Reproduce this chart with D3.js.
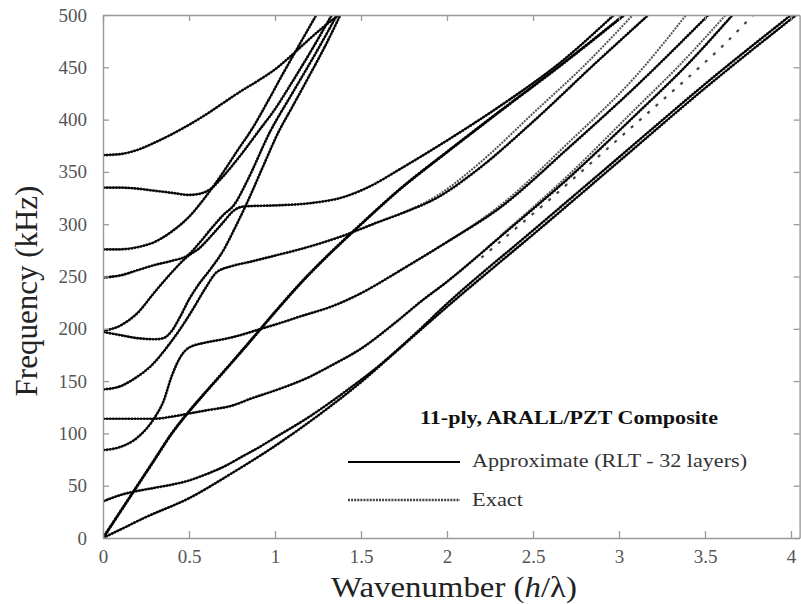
<!DOCTYPE html>
<html><head><meta charset="utf-8">
<script src="https://cdn.jsdelivr.net/npm/d3@7"></script>
<style>body{margin:0;background:#fff}svg{display:block}</style>
</head><body><svg id="c" width="801" height="604"></svg>
<script>
// ---- tick values / labels ----
const xTicks = [0, 0.5, 1, 1.5, 2, 2.5, 3, 3.5, 4];
const xTickLabels = ["0", "0.5", "1", "1.5", "2", "2.5", "3", "3.5", "4"];
const yTicks = [0, 50, 100, 150, 200, 250, 300, 350, 400, 450, 500];

// ---- dispersion branches: [wavenumber h/λ, frequency kHz] ----
const modeA0 = [[0,0],[0.1,8],[0.25,20],[0.5,38],[0.75,62],[1,88],[1.25,117],[1.5,149],[1.75,185],[2,221],[2.31,264],[2.5,290],[3,360],[3.5,430],[4.03,500]];
const mode35 = [[0,35],[0.1,41],[0.2,45],[0.3,48],[0.4,51],[0.5,55],[0.6,61],[0.7,68],[0.8,77],[0.9,86],[1,96],[1.2,116],[1.4,139],[1.6,164],[1.8,193],[2,224],[2.5,294],[3,364],[3.5,434],[4.0,500]];
const modeS0 = [[0,0],[0.1,25],[0.2,50],[0.3,75],[0.4,100],[0.5,121],[0.6,140],[0.75,168],[0.855,188],[1,216],[1.145,243],[1.3,269],[1.5,300],[1.73,334],[2,369],[2.3,407],[2.67,453],[3.0,496],[3.03,500]];
const mode84 = [[0,84],[0.1,87],[0.2,96],[0.3,115],[0.35,130],[0.4,155],[0.45,173],[0.5,182],[0.6,187],[0.7,190],[0.8,194],[0.9,199],[1.0,204],[1.15,212],[1.34,222],[1.5,234],[1.73,256],[2.0,283],[2.31,316],[2.7,372],[3.1,432],[3.52,500]];
const mode113 = [[0,114],[0.2,114],[0.3,114],[0.4,116],[0.5,119],[0.6,122],[0.76,127],[0.855,133],[1,141],[1.2,154],[1.34,166],[1.5,181],[1.73,210],[1.84,225],[2,245],[2.31,288],[2.7,343],[3.1,405],[3.4,453],[3.66,500]];
const mode140 = [[0,142],[0.1,145],[0.17,151],[0.3,168],[0.37,182],[0.45,200],[0.52,218],[0.6,240],[0.66,254],[0.75,260],[0.855,264],[1.0,270],[1.145,276],[1.38,288],[1.6,302],[1.73,310],[1.94,325],[2.2,355],[2.5,398],[2.87,455],[3.17,500]];
const mode197 = [[0,197],[0.1,194],[0.2,191],[0.3,190],[0.35,191],[0.4,198],[0.45,212],[0.5,228],[0.55,241],[0.62,256],[0.7,275],[0.76,294],[0.85,325],[0.93,355],[1.02,388],[1.1,412],[1.2,442],[1.3,473],[1.38,500]];
const mode200 = [[0,198],[0.1,203],[0.2,215],[0.3,235],[0.4,254],[0.49,269],[0.56,277],[0.63,289],[0.7,302],[0.76,313],[0.82,317],[1.0,318],[1.2,320],[1.4,326],[1.55,336],[1.73,353],[2.0,380],[2.3,412],[2.67,456],[2.97,500]];
const mode250 = [[0,249],[0.1,251],[0.2,256],[0.3,261],[0.4,265],[0.49,270],[0.56,282],[0.63,296],[0.7,309],[0.76,318],[0.84,342],[0.97,388],[1.1,425],[1.2,453],[1.3,482],[1.36,500]];
const mode275 = [[0,276],[0.1,276],[0.2,278],[0.3,283],[0.4,293],[0.5,307],[0.6,327],[0.7,350],[0.78,370],[0.87,392],[0.95,415],[1.05,445],[1.15,474],[1.24,500]];
const mode330 = [[0,335],[0.1,335],[0.2,334],[0.3,332],[0.4,330],[0.5,328],[0.56,329],[0.62,333],[0.7,346],[0.8,366],[0.9,388],[1.0,410],[1.1,436],[1.2,463],[1.33,500]];
const mode365 = [[0,366],[0.1,367],[0.2,371],[0.3,378],[0.4,386],[0.5,395],[0.6,405],[0.7,416],[0.8,427],[0.9,437],[1.0,448],[1.1,462],[1.2,477],[1.3,491],[1.37,500]];
// exact-only branches (upper right)
const exactSparse = [[2.2,268],[2.4,296],[2.6,324],[2.8,353],[3.0,382],[3.2,411],[3.4,440],[3.6,470],[3.78,500]];
const exact140b = [[1.73,310],[1.94,327],[2.2,360],[2.5,406],[2.8,452],[3.08,500]];
const exact84b = [[2.0,283],[2.31,318],[2.7,377],[3.1,442],[3.39,500]];
const exact113b = [[2.31,289],[2.7,346],[3.1,411],[3.34,450],[3.62,500]];

const branches = [modeA0, mode35, mode84, mode113, mode140, mode197, mode200, mode250, mode275, mode330, mode365];
const exactOnly = [exact140b, exact84b, exact113b];

// ---- drawing ----
const svg = d3.select("#c");
const FONT = "'Liberation Serif','Times New Roman',serif";
const x = d3.scaleLinear().domain([0, 4.05]).range([103, 799.6]);
const y = d3.scaleLinear().domain([0, 500]).range([538, 15]);

svg.append("defs").append("clipPath").attr("id", "plot")
  .append("rect").attr("x", x(0)).attr("y", y(500))
  .attr("width", x(4.05) - x(0)).attr("height", y(0) - y(500));

const line = d3.line().x(d => x(d[0])).y(d => y(d[1])).curve(d3.curveMonotoneX);
const g = svg.append("g").attr("clip-path", "url(#plot)");

function drawExact(data, w, col) {
  g.append("path").attr("d", line(data)).attr("fill", "none")
    .attr("stroke", col || "#333").attr("stroke-width", w || 2.7)
    .attr("stroke-dasharray", "2 1.1");
}
function drawApprox(data, w) {
  g.append("path").attr("d", line(data)).attr("fill", "none")
    .attr("stroke", "#000").attr("stroke-width", w || 1.7)
    .attr("stroke-linejoin", "round");
}

branches.forEach(b => drawExact(b));
exactOnly.forEach(b => drawExact(b, 2.0, "#555"));
drawExact(modeS0, 3.1);
g.append("path").attr("d", line(exactSparse)).attr("fill", "none")
  .attr("stroke", "#444").attr("stroke-width", 2.2).attr("stroke-dasharray", "3 8");
branches.forEach(b => drawApprox(b));
drawApprox(modeS0, 2.4);

// ---- axes ----
const axStyle = sel => {
  sel.selectAll(".domain").attr("stroke", "#999").attr("stroke-width", 1.4);
  sel.selectAll(".tick line").attr("stroke", "#999").attr("stroke-width", 1.3);
  sel.selectAll("text").attr("font-family", FONT).attr("font-size", 19).attr("fill", "#555");
};
svg.append("g").attr("transform", `translate(0,${y(0)})`)
  .call(d3.axisBottom(x).tickValues(xTicks).tickFormat((d, i) => xTickLabels[i]).tickSize(-7).tickSizeOuter(0).tickPadding(12))
  .call(axStyle);
svg.append("g").attr("transform", `translate(${x(0)},0)`)
  .call(d3.axisLeft(y).tickValues(yTicks).tickSize(-6).tickSizeOuter(0).tickPadding(16))
  .call(axStyle);
svg.append("g").attr("transform", `translate(0,${y(500)})`)
  .call(d3.axisTop(x).tickValues(xTicks).tickFormat("").tickSize(-6).tickSizeOuter(0))
  .call(axStyle);
svg.append("g").attr("transform", `translate(${x(4.05)},0)`)
  .call(d3.axisRight(y).tickValues(yTicks).tickFormat("").tickSize(-6).tickSizeOuter(0))
  .call(axStyle);

// ---- axis titles ----
svg.append("text").attr("transform", "translate(37,291) rotate(-90)")
  .attr("text-anchor", "middle").attr("font-family", FONT).attr("font-size", 31).attr("fill", "#222")
  .text("Frequency (kHz)");
const xt = svg.append("text").attr("x", 331).attr("y", 597)
  .attr("font-family", FONT).attr("font-size", 30).attr("fill", "#222")
  .attr("textLength", 246).attr("lengthAdjust", "spacingAndGlyphs");
xt.append("tspan").text("Wavenumber (");
xt.append("tspan").attr("font-style", "italic").text("h");
xt.append("tspan").text("/λ)");

// ---- legend ----
svg.append("text").attr("x", 420).attr("y", 424).attr("font-family", FONT).attr("font-weight", "bold")
  .attr("font-size", 19).attr("fill", "#111").attr("textLength", 298).attr("lengthAdjust", "spacingAndGlyphs")
  .text("11-ply, ARALL/PZT Composite");
svg.append("line").attr("x1", 348).attr("x2", 460).attr("y1", 462).attr("y2", 462)
  .attr("stroke", "#000").attr("stroke-width", 2.2);
svg.append("text").attr("x", 472).attr("y", 467).attr("font-family", FONT)
  .attr("font-size", 19).attr("fill", "#333").attr("textLength", 275).attr("lengthAdjust", "spacingAndGlyphs")
  .text("Approximate (RLT - 32 layers)");
svg.append("line").attr("x1", 348).attr("x2", 460).attr("y1", 500).attr("y2", 500)
  .attr("stroke", "#444").attr("stroke-width", 2.4).attr("stroke-dasharray", "2 1.1");
svg.append("text").attr("x", 472).attr("y", 506).attr("font-family", FONT)
  .attr("font-size", 19).attr("fill", "#333").attr("textLength", 51).attr("lengthAdjust", "spacingAndGlyphs")
  .text("Exact");
</script></body></html>
